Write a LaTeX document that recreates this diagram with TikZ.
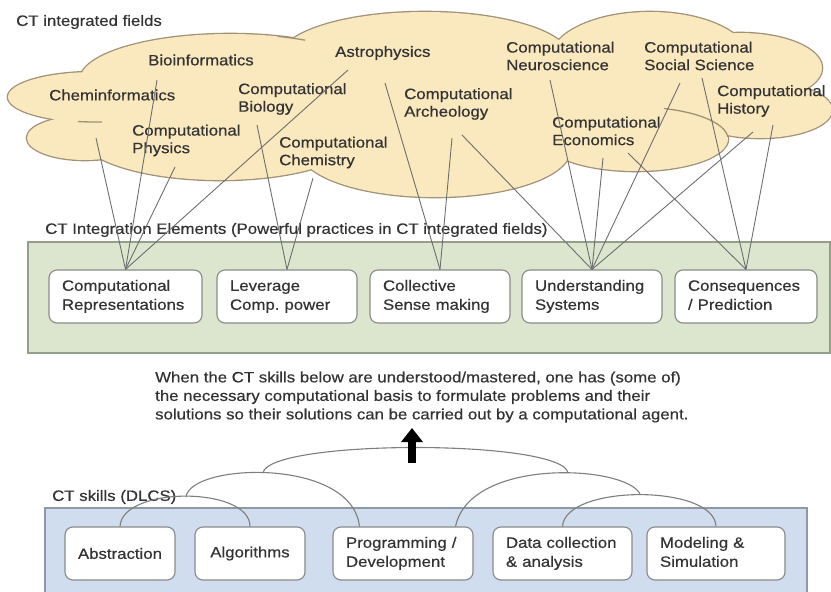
\documentclass[tikz,border=0pt]{standalone}
\usepackage{fontspec}
\setmainfont[FakeStretch=1.12,FakeBold=0.5]{Liberation Sans}
\usetikzlibrary{arrows.meta}
\frenchspacing
\definecolor{cloudfill}{HTML}{FAE8BE}
\definecolor{cloudline}{HTML}{A09276}
\definecolor{textc}{HTML}{333333}
\definecolor{linec}{HTML}{6E6E6E}
\definecolor{greenfill}{HTML}{DCE6CF}
\definecolor{greenline}{HTML}{949E8A}
\definecolor{bluefill}{HTML}{CFDDEF}
\definecolor{blueline}{HTML}{8E99A6}
\definecolor{boxline}{HTML}{8A8A8A}
\definecolor{arcc}{HTML}{7E7E7E}
\newcommand{\strutln}[1]{\strut #1}
\begin{document}
\frenchspacing
\begin{tikzpicture}[x=1pt,y=-1pt,
  txt/.style={inner sep=0pt, text=textc, align=left, font=\fontsize{15}{17.6}\selectfont},
  ebox/.style={draw=boxline, fill=white, rounded corners=8pt, line width=1.1pt,
     minimum height=53pt, inner xsep=13pt, inner ysep=0pt, text=textc, align=left,
     font=\fontsize{15}{19}\selectfont},
  cbox/.style={ebox, align=center, inner xsep=0pt},
  conn/.style={draw=linec, line width=0.9pt},
  arcline/.style={draw=arcc, line width=1.1pt},
  cloudedge/.style={draw=cloudline, line width=2.6pt},
  cloudinner/.style={draw=cloudline, line width=1.3pt}]
\useasboundingbox (0,0) rectangle (831,592);

% ---------- cloud ----------
\foreach \cx/\cy/\rx/\ry in {95/97/87/25, 85/138/58/22, 230/80/150/46, 220/135/140/45,
   425/58/145/46, 435/150/135/47, 650/60/100/48, 740/68/82/35, 760/110/72/28, 636/139/92/32}
  \draw[cloudedge] (\cx,\cy) ellipse [x radius=\rx, y radius=\ry];
\foreach \cx/\cy/\rx/\ry in {95/97/87/25, 85/138/58/22, 230/80/150/46, 220/135/140/45,
   425/58/145/46, 435/150/135/47, 650/60/100/48, 740/68/82/35, 760/110/72/28, 636/139/92/32,
   400/108/110/30, 520/110/140/45, 680/105/40/15}
  \fill[cloudfill] (\cx,\cy) ellipse [x radius=\rx, y radius=\ry];
\begin{scope}
  \clip (664,100) rectangle (740,136);
  \draw[cloudinner] (636,139) ellipse [x radius=92, y radius=32];
\end{scope}
\begin{scope}
  \clip (78,110) rectangle (102,130);
  \draw[cloudinner] (95,97) ellipse [x radius=87, y radius=25];
\end{scope}
\begin{scope}
  \clip (278,25) rectangle (305,45);
  \draw[cloudinner] (230,80) ellipse [x radius=150, y radius=46];
\end{scope}

% ---------- cloud labels ----------
\node[txt, anchor=west] (lbltop) at (16,22) {CT integrated fields};
\node[txt, anchor=west] (bioinf) at (148,60) {Bioinformatics};
\node[txt, anchor=west] (cheminf) at (49,95) {Cheminformatics};
\node[txt, anchor=west] (cbio) at (238,99) {Computational\\Biology};
\node[txt, anchor=west] (cphys) at (132,140.5) {Computational\\Physics};
\node[txt, anchor=west] (cchem) at (279,152.5) {Computational\\Chemistry};
\node[txt, anchor=west] (astro) at (335,53) {Astrophysics};
\node[txt, anchor=west] (carch) at (404,104) {Computational\\Archeology};
\node[txt, anchor=west] (cneuro) at (506,56) {Computational\\Neuroscience};
\node[txt, anchor=west] (csoc) at (644,56) {Computational\\Social Science};
\node[txt, anchor=west] (chist) at (717,101) {Computational\\History};
\node[txt, anchor=west] (cecon) at (552,131) {Computational\\Economics};

% ---------- integration elements ----------
\draw[draw=greenline, fill=greenfill, line width=1.2pt] (28,242) rectangle (830,353);
\node[txt, anchor=west] (lblmid) at (45,230) {CT Integration Elements (Powerful practices in CT integrated fields)};
\node[ebox, text width=127pt] (cr) at (125.5,296.5) {\strutln{Computational}\\\strutln{Representations}};
\node[ebox, text width=114pt] (lv) at (287,296.5) {\strutln{Leverage}\\\strutln{Comp. power}};
\node[ebox, text width=114pt] (cs) at (440,296.5) {\strutln{Collective}\\\strutln{Sense making}};
\node[ebox, text width=114pt] (us) at (592,296.5) {\strutln{Understanding}\\\strutln{Systems}};
\node[ebox, text width=116pt] (cp) at (746,296.5) {\strutln{Consequences}\\\strutln{/ Prediction}};

% ---------- connectors ----------
\coordinate (s1) at (96,138);
\coordinate (s2) at (157,80);
\coordinate (s3) at (175,167);
\coordinate (s4) at (348,70);
\coordinate (s5) at (257,125);
\coordinate (s6) at (313,178);
\coordinate (s7) at (385,83);
\coordinate (s8) at (452,138);
\coordinate (s9) at (462,135);
\coordinate (s10) at (550,80);
\coordinate (s11) at (603,158);
\coordinate (s12) at (680,83);
\coordinate (s13) at (753,132);
\coordinate (s14) at (628,153);
\coordinate (s15) at (702,78);
\coordinate (s16) at (773,125);
\foreach \s in {s1,s2,s3,s4} \draw[conn] (\s) -- (cr.north);
\foreach \s in {s5,s6} \draw[conn] (\s) -- (lv.north);
\foreach \s in {s7,s8} \draw[conn] (\s) -- (cs.north);
\foreach \s in {s9,s10,s11,s12,s13} \draw[conn] (\s) -- (us.north);
\foreach \s in {s14,s15,s16} \draw[conn] (\s) -- (cp.north);

% ---------- statement ----------
\node[txt, anchor=west, font=\fontsize{15}{18.5}\selectfont] (stmt) at (155,397)
  {When the CT skills below are understood/mastered, one has (some of)\\
   the necessary computational basis to formulate problems and their\\
   solutions so their solutions can be carried out by a computational agent.};

% ---------- CT skills ----------
\draw[draw=blueline, fill=bluefill, line width=1.2pt] (45,508) rectangle (807,610);
\node[txt, anchor=west] (lblbot) at (52,497) {CT skills (DLCS)};
\node[cbox, minimum width=110pt] (ab) at (120,553.5) {Abstraction};
\node[cbox, minimum width=110pt] (al) at (250,553.5) {Algorithms};
\node[ebox, text width=114pt] (pd) at (403,553.5) {\strutln{Programming /}\\\strutln{Development}};
\node[ebox, text width=113pt] (dc) at (562.5,553.5) {\strutln{Data collection}\\\strutln{\& analysis}};
\node[ebox, text width=112pt] (ms) at (716,553.5) {\strutln{Modeling \&}\\\strutln{Simulation}};

\coordinate (pdl) at ([xshift=27pt]pd.north west);
\coordinate (pdr) at ([xshift=-18pt]pd.north east);
\coordinate (j1) at (186,497);
\coordinate (j2) at (263,473);
\coordinate (j4) at (568,473);
\coordinate (j5) at (640,494);
% arcs
\draw[arcline] (ab.north) .. controls (122,486) and (250,486) .. (al.north);
\draw[arcline] (j1) .. controls (190,463) and (352,457) .. (pdl);
\draw[arcline] (j2) .. controls (268,439) and (563,439) .. (j4);
\draw[arcline] (pdr) .. controls (470,457) and (626,465) .. (j5);
\draw[arcline] (dc.north) .. controls (565,484) and (715,484) .. (ms.north);

% ---------- arrow ----------
\coordinate (abase) at (412,463);
\coordinate (atip) at (412,428);
\draw[black, line width=8pt, -{Triangle[width=21pt,length=14pt]}] (abase) -- (atip);
\end{tikzpicture}
\end{document}
